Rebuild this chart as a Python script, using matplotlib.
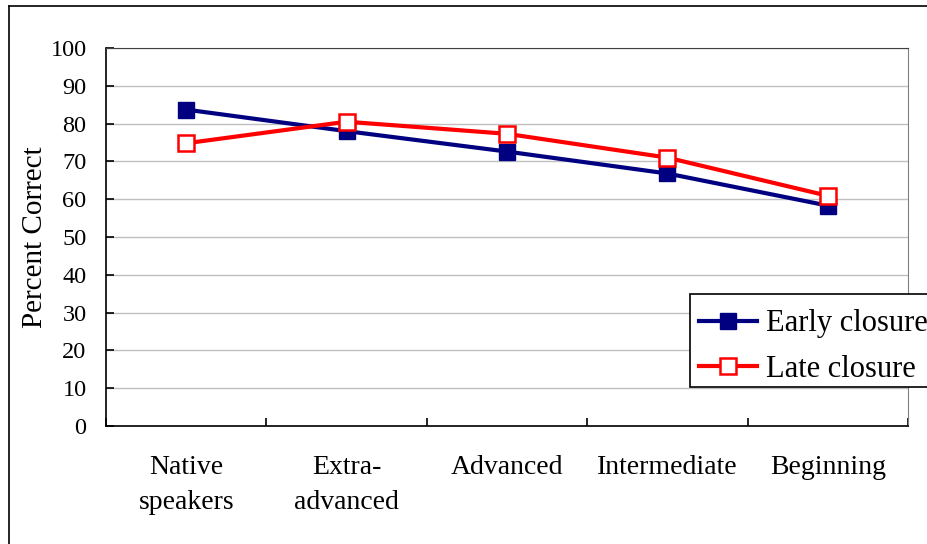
"""Percent correct by proficiency group for early vs late closure sentences."""

import matplotlib

matplotlib.use("Agg")
import matplotlib.pyplot as plt
from matplotlib.lines import Line2D
from matplotlib.patches import Rectangle


GROUPS = ["Native\nspeakers", "Extra-\nadvanced", "Advanced", "Intermediate", "Beginning"]
EARLY_CLOSURE = [83.7, 78.0, 72.6, 66.8, 58.3]
LATE_CLOSURE = [74.8, 80.5, 77.3, 71.0, 60.9]
Y_TICKS = list(range(0, 101, 10))

W, H = 927, 544
plt.rcParams["font.family"] = ["Liberation Serif", "DejaVu Serif"]

fig = plt.figure(figsize=(W / 100, H / 100), dpi=100)
fig.patch.set_facecolor("white")

# outer chart frame (only left and top edges fall inside the image)
fig.add_artist(Line2D([9 / W, 9 / W], [0, 1 - 6 / H], color="black", lw=1.2))
fig.add_artist(Line2D([9 / W, 1], [1 - 6 / H, 1 - 6 / H], color="black", lw=1.2))

ax = fig.add_axes([106 / W, (H - 426) / H, 802 / W, 378 / H])

x = list(range(len(GROUPS)))
ax.plot(x, EARLY_CLOSURE, color="#000080", lw=3, marker="s", markersize=11,
        markerfacecolor="#000080", markeredgecolor="#000080", label="Early closure", zorder=3)
ax.plot(x, LATE_CLOSURE, color="#ff0000", lw=3, marker="s", markersize=11,
        markerfacecolor="white", markeredgecolor="#ff0000", markeredgewidth=1.8,
        label="Late closure", zorder=4)

ax.set_xlim(-0.5, len(GROUPS) - 0.5)
ax.set_ylim(0, 100)
ax.set_yticks(Y_TICKS)
ax.tick_params(axis="y", labelsize=17.5, direction="in", length=6, width=1.2, pad=14)
ax.grid(axis="y", color="#c0c0c0", lw=1)
ax.set_axisbelow(True)

ax.set_xticks(x)
ax.set_xticklabels(GROUPS, fontsize=20, linespacing=1.5)
ax.tick_params(axis="x", which="major", length=0, pad=21)
ax.set_xticks([i + 0.5 for i in range(-1, len(GROUPS))], minor=True)
ax.tick_params(axis="x", which="minor", direction="in", length=6, width=1.2)

ax.set_ylabel("Percent Correct", fontsize=21, labelpad=2)

ax.spines["left"].set_linewidth(1.2)
ax.spines["bottom"].set_linewidth(1.2)
ax.spines["top"].set_color("#404040")
ax.spines["right"].set_color("#808080")

# legend box runs past the right edge of the image, as in the original chart
fig.add_artist(Rectangle((690 / W, 1 - 387 / H), 260 / W, 93 / H, transform=fig.transFigure,
                         facecolor="white", edgecolor="black", lw=1.2, zorder=5))
handles, labels = ax.get_legend_handles_labels()
leg = fig.legend(handles, labels, loc="upper left", bbox_to_anchor=(684 / W, 1 - 294 / H),
                 bbox_transform=fig.transFigure, fontsize=22, frameon=False,
                 handlelength=1.9, borderaxespad=0, borderpad=0.5,
                 labelspacing=0.55, handletextpad=0.28)
leg.set_zorder(6)

fig.savefig("out.png", dpi=100)
